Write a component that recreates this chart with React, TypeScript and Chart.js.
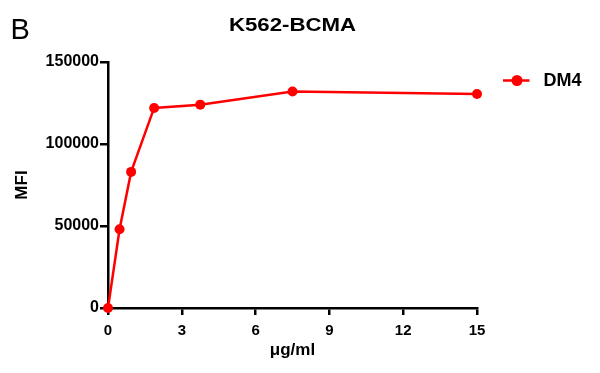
import React, { useEffect, useRef } from "react";
import { Chart, registerables } from "chart.js";

Chart.register(...registerables);

const doses = [0, 0.47, 0.94, 1.875, 3.75, 7.5, 15];
const mfi = [0, 48000, 83000, 122000, 124000, 132000, 130500];
const seriesLabel = "DM4";
const chartTitle = "K562-BCMA";
const panelLetter = "B";
const xTitle = "μg/ml";
const yTitle = "MFI";
const xTicks = [0, 3, 6, 9, 12, 15];
const yTicks = [0, 50000, 100000, 150000];

const RED = "#ff0000";
const FONT = "'Liberation Sans', Arial, sans-serif";

const extrasPlugin = {
  id: "extras",
  afterDraw(chart: any) {
    const { ctx, chartArea } = chart;
    ctx.save();
    ctx.fillStyle = "#000";
    ctx.textBaseline = "middle";
    // panel letter
    ctx.font = `29px ${FONT}`;
    ctx.textAlign = "left";
    ctx.fillText(panelLetter, 10.5, 31);
    // title (slightly widened like the reference)
    ctx.save();
    ctx.font = `bold 19px ${FONT}`;
    ctx.textAlign = "center";
    const cx = (chartArea.left + chartArea.right) / 2;
    ctx.translate(cx, 26);
    ctx.scale(1.17, 1);
    ctx.fillText(chartTitle, 0, 0);
    ctx.restore();
    // legend
    const ly = 80.5;
    ctx.strokeStyle = RED;
    ctx.lineWidth = 2.5;
    ctx.beginPath();
    ctx.moveTo(503, ly);
    ctx.lineTo(529.5, ly);
    ctx.stroke();
    ctx.fillStyle = RED;
    ctx.beginPath();
    ctx.arc(517, ly, 5.5, 0, Math.PI * 2);
    ctx.fill();
    ctx.fillStyle = "#000";
    ctx.font = `bold 18px ${FONT}`;
    ctx.textAlign = "left";
    ctx.fillText(chart.data.datasets[0].label, 543.5, ly + 0.5);
    ctx.restore();
  },
};

export default function App() {
  const ref = useRef<HTMLCanvasElement>(null);
  useEffect(() => {
    if (!ref.current) return;
    const chart = new Chart(ref.current, {
      type: "line",
      data: {
        datasets: [
          {
            label: seriesLabel,
            data: doses.map((d, i) => ({ x: d, y: mfi[i] })),
            borderColor: RED,
            backgroundColor: RED,
            borderWidth: 2.5,
            pointRadius: 5,
            pointHoverRadius: 5,
            pointBackgroundColor: RED,
            pointBorderColor: RED,
            pointBorderWidth: 0,
            tension: 0,
            clip: false,
          },
        ],
      },
      options: {
        animation: false,
        responsive: false,
        maintainAspectRatio: false,
        layout: { padding: { left: 0, top: 62, right: 123, bottom: 0 } },
        plugins: {
          legend: { display: false },
          title: { display: false },
          tooltip: { enabled: false },
        },
        scales: {
          x: {
            type: "linear",
            min: 0,
            max: 15,
            afterBuildTicks: (s: any) => {
              s.ticks = xTicks.map((v) => ({ value: v }));
            },
            afterFit: (s: any) => {
              s.height = 65;
            },
            border: { color: "#000", width: 2.5 },
            grid: {
              drawOnChartArea: false,
              drawTicks: true,
              tickLength: 7,
              color: "#000",
              lineWidth: 2.5,
            },
            ticks: {
              color: "#000",
              padding: 7,
              maxRotation: 0,
              font: { family: FONT, size: 15, weight: "bold" },
            },
            title: {
              display: true,
              text: xTitle,
              color: "#000",
              font: { family: FONT, size: 17, weight: "bold" },
              padding: { top: 0, bottom: 12 },
            },
          },
          y: {
            type: "linear",
            min: 0,
            max: 150000,
            afterBuildTicks: (s: any) => {
              s.ticks = yTicks.map((v) => ({ value: v }));
            },
            afterFit: (s: any) => {
              s.width = 108;
            },
            border: { color: "#000", width: 2.5 },
            grid: {
              drawOnChartArea: false,
              drawTicks: true,
              tickLength: 8,
              color: "#000",
              lineWidth: 2.5,
            },
            ticks: {
              color: "#000",
              padding: 1,
              font: { family: FONT, size: 16, weight: "bold" },
              callback: (v: any) => String(v),
            },
            title: {
              display: true,
              text: yTitle,
              color: "#000",
              font: { family: FONT, size: 17, weight: "bold" },
              padding: { top: 12, bottom: 0 },
            },
          },
        },
      },
      plugins: [extrasPlugin],
    } as any);
    return () => chart.destroy();
  }, []);
  return (
    <div style={{ position: "fixed", left: 0, top: 0, width: 600, height: 373, background: "#fff" }}>
      <canvas ref={ref} width={600} height={373} style={{ width: 600, height: 373 }} />
    </div>
  );
}
